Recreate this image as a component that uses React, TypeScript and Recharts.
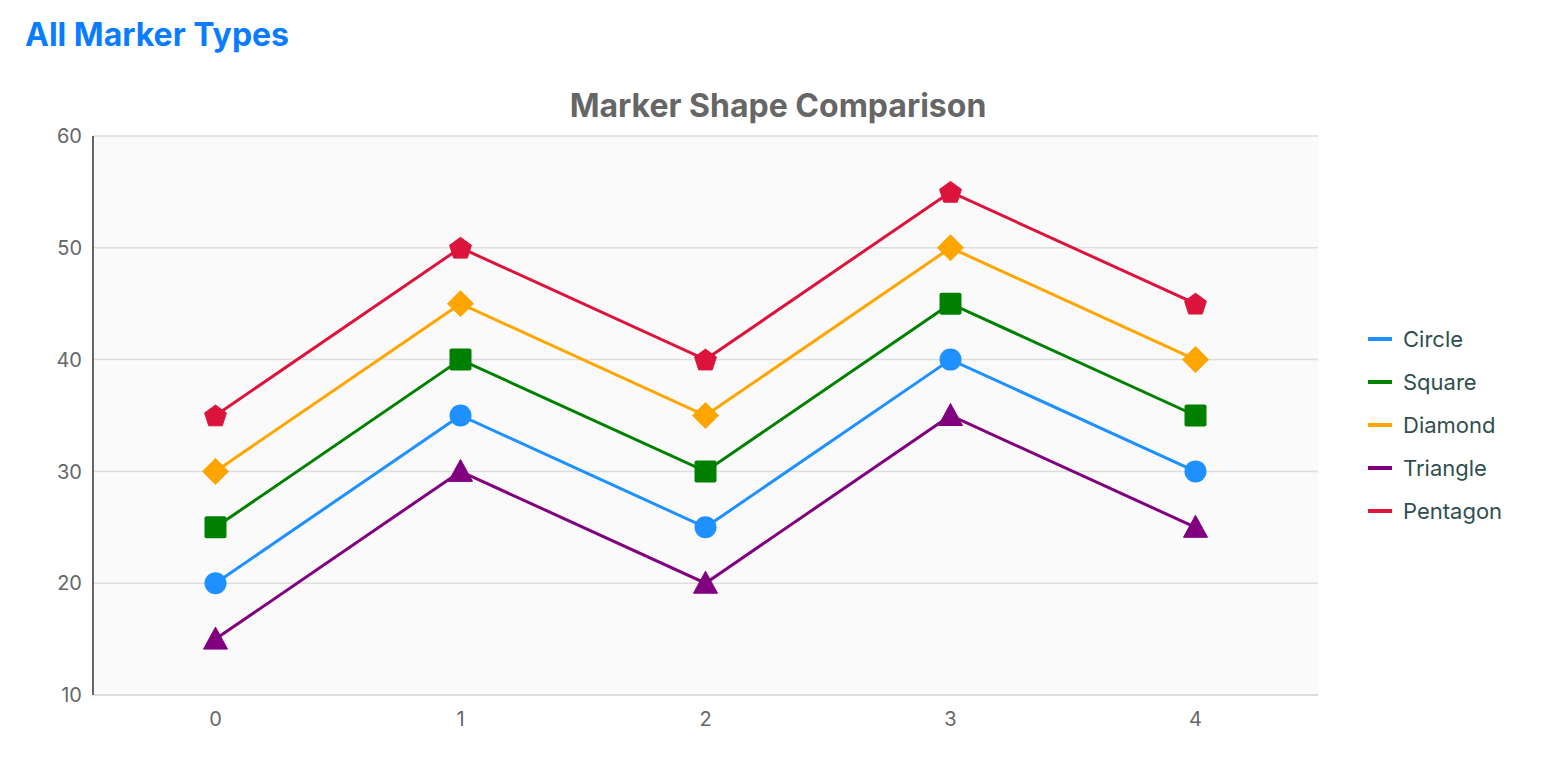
import React from 'react';
import { LineChart, Line, XAxis, YAxis, CartesianGrid } from 'recharts';

const categories = [0, 1, 2, 3, 4];
const circleValues = [20, 35, 25, 40, 30];
const squareValues = [25, 40, 30, 45, 35];
const diamondValues = [30, 45, 35, 50, 40];
const triangleValues = [15, 30, 20, 35, 25];
const pentagonValues = [35, 50, 40, 55, 45];
const yTicks = [10, 20, 30, 40, 50, 60];

const series = [
  { key: 'circle', name: 'Circle', color: '#1e90ff', shape: 'circle', values: circleValues },
  { key: 'square', name: 'Square', color: '#008000', shape: 'square', values: squareValues },
  { key: 'diamond', name: 'Diamond', color: '#ffa500', shape: 'diamond', values: diamondValues },
  { key: 'triangle', name: 'Triangle', color: '#800080', shape: 'triangle', values: triangleValues },
  { key: 'pentagon', name: 'Pentagon', color: '#dc143c', shape: 'pentagon', values: pentagonValues },
];

const data = categories.map((x, i) => {
  const row: Record<string, number> = { x };
  series.forEach(s => { row[s.key] = s.values[i]; });
  return row;
});

function Marker({ cx, cy, shape, color }: { cx?: number; cy?: number; shape: string; color: string }) {
  if (cx == null || cy == null) return null;
  if (shape === 'circle') return <circle cx={cx} cy={cy} r={11} fill={color} />;
  if (shape === 'square') return <rect x={cx - 11} y={cy - 11} width={22} height={22} rx={2} fill={color} />;
  if (shape === 'diamond') {
    const d = 13;
    return <polygon points={`${cx},${cy - d} ${cx + d},${cy} ${cx},${cy + d} ${cx - d},${cy}`} fill={color} strokeLinejoin="round" stroke={color} strokeWidth={1} />;
  }
  if (shape === 'triangle') {
    return <polygon points={`${cx},${cy - 12} ${cx + 12},${cy + 10} ${cx - 12},${cy + 10}`} fill={color} stroke={color} strokeWidth={1} strokeLinejoin="round" />;
  }
  const r = 11.5;
  const pts = [0, 1, 2, 3, 4].map(k => {
    const a = -Math.PI / 2 + (k * 2 * Math.PI) / 5;
    return `${cx + r * Math.cos(a)},${cy + 1 + r * Math.sin(a)}`;
  }).join(' ');
  return <polygon points={pts} fill={color} stroke={color} strokeWidth={1} strokeLinejoin="round" />;
}

export default function App() {
  const font = 'Inter, "Noto Sans", sans-serif';
  return (
    <div style={{ position: 'absolute', left: 0, top: 0, width: 1548, height: 770, fontFamily: font, background: '#fff' }}>
      <div style={{ position: 'absolute', left: 25, top: 15, fontSize: 32, fontWeight: 700, color: '#0a7cff', lineHeight: 'normal' }}>
        All Marker Types
      </div>
      <div style={{ position: 'absolute', left: 0, width: 1556, top: 86, textAlign: 'center', fontSize: 32, fontWeight: 700, color: '#666', lineHeight: 'normal' }}>
        Marker Shape Comparison
      </div>
      <div style={{ position: 'absolute', left: 0, top: 0 }}>
        <LineChart width={1548} height={770} data={data} margin={{ top: 136, right: 230, bottom: 45, left: 33 }}>
          <CartesianGrid vertical={false} fill="#fafafa" stroke="#dddddd" strokeWidth={1.5} />
          <XAxis
            dataKey="x"
            type="number"
            domain={[-0.5, 4.5]}
            ticks={categories}
            tickLine={false}
            tickMargin={11}
            axisLine={{ stroke: '#dddddd', strokeWidth: 2 }}
            tick={{ fill: '#666', fontSize: 20, fontFamily: font }}
          />
          <YAxis
            type="number"
            domain={[10, 60]}
            ticks={yTicks}
            width={60}
            tickLine={false}
            tickMargin={5}
            axisLine={{ stroke: '#666', strokeWidth: 2 }}
            tick={{ fill: '#666', fontSize: 20, fontFamily: font }}
          />
          {series.map(s => (
            <Line
              key={s.key}
              dataKey={s.key}
              name={s.name}
              stroke={s.color}
              strokeWidth={3}
              isAnimationActive={false}
              activeDot={false}
              dot={(p: any) => <Marker key={`${s.key}-${p.index}`} cx={p.cx} cy={p.cy} shape={s.shape} color={s.color} />}
            />
          ))}
        </LineChart>
      </div>
      <div style={{ position: 'absolute', left: 1368, top: 318 }}>
        {series.map(s => (
          <div key={s.key} style={{ display: 'flex', alignItems: 'center', height: 42.8 }}>
            <div style={{ width: 24, height: 4, background: s.color, marginRight: 11 }} />
            <span style={{ fontSize: 22, color: '#2f4f4f' }}>{s.name}</span>
          </div>
        ))}
      </div>
    </div>
  );
}
